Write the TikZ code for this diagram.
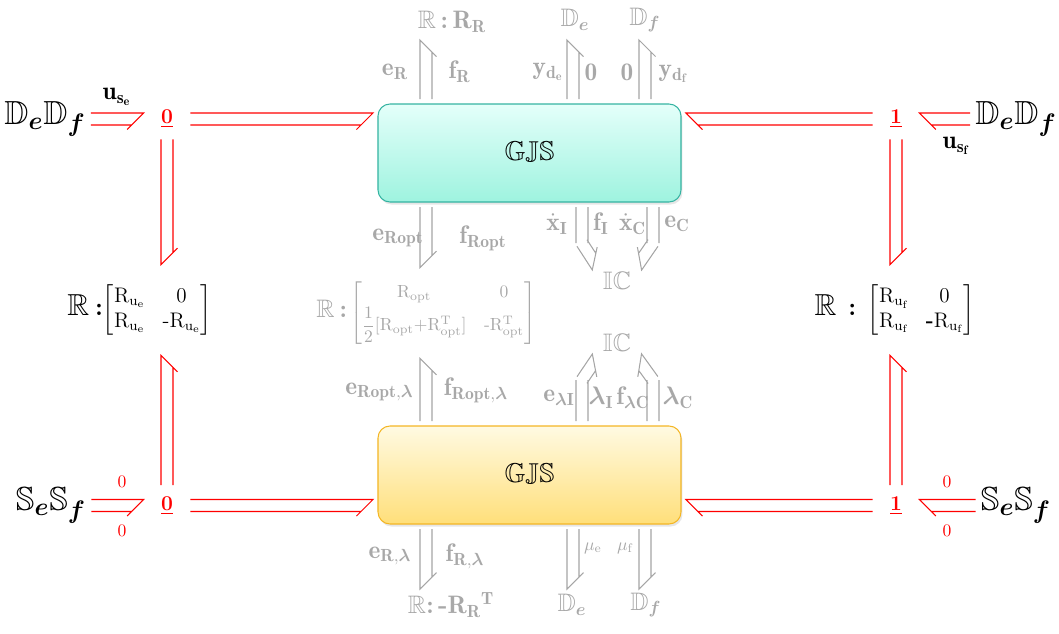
\documentclass[tikz,border=0pt]{standalone}
\usepackage{fontspec}
\usepackage{amsmath,amssymb}
\usepackage{xcolor}
\usetikzlibrary{calc,shadows}

\definecolor{gtext}{HTML}{A8A8A8}
\definecolor{gline}{HTML}{A5A5A5}
\definecolor{tealedge}{HTML}{35B3A2}
\definecolor{tealtop}{HTML}{E4FFFA}
\definecolor{tealbot}{HTML}{9EF3DF}
\definecolor{goldedge}{HTML}{F4B625}
\definecolor{goldtop}{HTML}{FFFAE2}
\definecolor{goldbot}{HTML}{FFDF7A}

\begin{document}
\begin{tikzpicture}[
  font=\Large,
  gjsbox/.style={draw, rounded corners=0.24cm, line width=0.6pt,
                 minimum width=6.06cm, minimum height=1.96cm, outer sep=0.1cm,
                 font=\fontsize{15.5}{19}\selectfont,
                 drop shadow={opacity=0.2, shadow xshift=0.03cm, shadow yshift=-0.05cm}},
  junc/.style={text=red, font=\large\bfseries, minimum width=0.92cm,
               minimum height=0.8cm, inner sep=0pt},
  big/.style={font=\fontsize{19}{22}\selectfont, inner sep=0.1cm},
  glab/.style={text=gtext, inner sep=1pt},
  rbond/.style={draw=red, line width=0.6pt},
  gbond/.style={draw=gline, line width=0.6pt},
  bond/.style 2 args={to path={
    ($(\tikztostart)!0.12cm!#1:(\tikztotarget)$)
      -- ($(\tikztotarget)!0.12cm!#2:(\tikztostart)$)
      -- ($(\tikztotarget)!0.33cm!(\tikztostart)!0.21cm!#1:(\tikztostart)$)
    ($(\tikztostart)!0.12cm!#2:(\tikztotarget)$)
      -- ($(\tikztotarget)!0.24cm!(\tikztostart)!0.12cm!#1:(\tikztostart)$)}},
  bondL/.style={bond={90}{-90}},
  bondR/.style={bond={-90}{90}},
  pair/.style={to path={
    ($(\tikztostart)!0.12cm!90:(\tikztotarget)$) -- ($(\tikztotarget)!0.12cm!-90:(\tikztostart)$)
    ($(\tikztostart)!0.12cm!-90:(\tikztotarget)$) -- ($(\tikztotarget)!0.12cm!90:(\tikztostart)$)
    (\tikztotarget)}}
]
\useasboundingbox (-10.59,-6.33) rectangle (10.59,6.33);
%--- GJS blocks ---------------------------------------------------------------
\node[gjsbox, draw=tealedge, top color=tealtop, bottom color=tealbot] (gjs1) at (0,3.27) {$\mathbb{GJS}$};
\node[gjsbox, draw=goldedge, top color=goldtop, bottom color=goldbot] (gjs2) at (0,-3.17) {$\mathbb{GJS}$};
%--- junctions -----------------------------------------------------------------
\node[junc] (j0t) at (-7.25,3.95)  {\underline{0}};
\node[junc] (j1t) at (7.33,3.95)   {\underline{1}};
\node[junc] (j0b) at (-7.25,-3.78) {\underline{0}};
\node[junc] (j1b) at (7.33,-3.78)  {\underline{1}};
%--- sources and dissipations ------------------------------------------------
\node[big] (dl) at (-9.69,3.95)  {$\mathbb{D}_{\boldsymbol{e}}\mathbb{D}_{\boldsymbol{f}}$};
\node[big] (dr) at (9.73,3.95)   {$\mathbb{D}_{\boldsymbol{e}}\mathbb{D}_{\boldsymbol{f}}$};
\node[big] (sl) at (-9.57,-3.78) {$\mathbb{S}_{\boldsymbol{e}}\mathbb{S}_{\boldsymbol{f}}$};
\node[big] (sr) at (9.73,-3.78)  {$\mathbb{S}_{\boldsymbol{e}}\mathbb{S}_{\boldsymbol{f}}$};
\node[font=\large, minimum height=1.8cm] (rl) at (-7.8,0.13) {%
  {\LARGE$\mathbb{R}$}\;{\Large\textbf{:}}$\begin{bmatrix}
    \mathrm{R}_{\mathrm{u}_{\mathrm{e}}} & 0\\
    \mathrm{R}_{\mathrm{u}_{\mathrm{e}}} & \text{-}\mathrm{R}_{\mathrm{u}_{\mathrm{e}}}
  \end{bmatrix}$};
\node[font=\large, minimum height=1.8cm] (rr) at (7.3,0.13) {%
  {\LARGE$\mathbb{R}$}\;\;{\Large\textbf{:}}\;\;$\begin{bmatrix}
    \mathrm{R}_{\mathrm{u}_{\mathrm{f}}} & 0\\
    \mathrm{R}_{\mathrm{u}_{\mathrm{f}}} & \textbf{-}\mathrm{R}_{\mathrm{u}_{\mathrm{f}}}
  \end{bmatrix}$};
%--- red labels ----------------------------------------------------------------
\node (use) at (-8.25,4.39) {$\mathbf{u}_{\mathbf{s}_{\mathbf{e}}}$};
\node (usf) at (8.53,3.41)  {$\mathbf{u}_{\mathbf{s}_{\mathbf{f}}}$};
\node[text=red, font=\normalsize] (zla) at (-8.15,-3.31) {0};
\node[text=red, font=\normalsize] (zlb) at (-8.15,-4.29) {0};
\node[text=red, font=\normalsize] (zra) at (8.35,-3.31)  {0};
\node[text=red, font=\normalsize] (zrb) at (8.35,-4.29)  {0};
%--- gray labels, top ---------------------------------------------------------
\node[glab] (rR)  at (-1.55,5.89) {$\mathbb{R}$\,\textbf{:}\,$\mathbf{R}_{\mathbf{R}}$};
\node[glab] (dDe) at (0.91,5.93)  {$\mathbb{D}_{\boldsymbol{e}}$};
\node[glab] (dDf) at (2.31,5.93)  {$\mathbb{D}_{\boldsymbol{f}}$};
\node[glab] (eR)  at (-2.69,4.89) {$\mathbf{e}_{\mathbf{R}}$};
\node[glab] (fR)  at (-1.4,4.89)  {$\mathbf{f}_{\mathbf{R}}$};
\node[glab] (yde) at (0.37,4.89)  {$\mathbf{y}_{\mathbf{d}_{\mathbf{e}}}$};
\node[glab] (zde) at (1.23,4.89)  {$\mathbf{0}$};
\node[glab] (zdf) at (1.95,4.89)  {$\mathbf{0}$};
\node[glab] (ydf) at (2.87,4.85)  {$\mathbf{y}_{\mathbf{d}_{\mathbf{f}}}$};
%--- gray labels, middle ------------------------------------------------------
\node[glab] (eRo) at (-2.63,1.57) {$\mathbf{e}_{\mathbf{Ropt}}$};
\node[glab] (fRo) at (-0.93,1.57) {$\mathbf{f}_{\mathbf{Ropt}}$};
\node[glab] (xI)  at (0.55,1.85)  {$\dot{\mathbf{x}}_{\mathbf{I}}$};
\node[glab] (fI)  at (1.43,1.85)  {$\mathbf{f}_{\mathbf{I}}$};
\node[glab] (xC)  at (2.06,1.85)  {$\dot{\mathbf{x}}_{\mathbf{C}}$};
\node[glab] (eC)  at (2.95,1.85)  {$\mathbf{e}_{\mathbf{C}}$};
\node[glab, inner sep=3pt] (ic1) at (1.75,0.71)  {$\mathbb{IC}$};
\node[glab, inner sep=3pt] (ic2) at (1.75,-0.53) {$\mathbb{IC}$};
\node[glab, font=\normalsize, minimum height=1.8cm] (rm) at (-2.07,0.07) {%
  {\Large$\mathbb{R}$}\;{\Large\textbf{:}}\,$\begin{bmatrix}
    \mathrm{R}_{\mathrm{opt}} & 0\\[2pt]
    \dfrac{1}{2}[\mathrm{R}_{\mathrm{opt}}{+}\mathrm{R}^{\mathrm{T}}_{\mathrm{opt}}] & \text{-}\mathrm{R}^{\mathrm{T}}_{\mathrm{opt}}
  \end{bmatrix}$};
\node[glab] (eRol) at (-3.0,-1.51)  {$\mathbf{e}_{\mathbf{Ropt},\boldsymbol{\lambda}}$};
\node[glab] (fRol) at (-1.07,-1.47) {$\mathbf{f}_{\mathbf{Ropt},\boldsymbol{\lambda}}$};
\node[glab] (elI)  at (0.59,-1.63)  {$\mathbf{e}_{\boldsymbol{\lambda}\mathbf{I}}$};
\node[glab] (lI)   at (1.43,-1.63)  {$\boldsymbol{\lambda}_{\mathbf{I}}$};
\node[glab] (flC)  at (2.07,-1.63)  {$\mathbf{f}_{\boldsymbol{\lambda}\mathbf{C}}$};
\node[glab] (lC)   at (2.97,-1.63)  {$\boldsymbol{\lambda}_{\mathbf{C}}$};
%--- gray labels, bottom ------------------------------------------------------
\node[glab] (eRl) at (-2.79,-4.79) {$\mathbf{e}_{\mathbf{R},\boldsymbol{\lambda}}$};
\node[glab] (fRl) at (-1.29,-4.79) {$\mathbf{f}_{\mathbf{R},\boldsymbol{\lambda}}$};
\node[glab, font=\normalsize] (mue) at (1.27,-4.63) {$\mu_{\mathrm{e}}$};
\node[glab, font=\normalsize] (muf) at (1.91,-4.63) {$\mu_{\mathrm{f}}$};
\node[glab] (rRb) at (-1.57,-5.77) {$\mathbb{R}$\textbf{:}\,$\textbf{-}\mathbf{R}_{\mathbf{R}}{}^{\mathbf{T}}$};
\node[glab] (bDe) at (0.85,-5.77) {$\mathbb{D}_{\boldsymbol{e}}$};
\node[glab] (bDf) at (2.33,-5.77) {$\mathbb{D}_{\boldsymbol{f}}$};
%--- free bond ends and bends ----------------------------------------------
\coordinate (tR)  at (-2.07,5.53);
\coordinate (tDe) at (0.87,5.53);
\coordinate (tDf) at (2.31,5.53);
\coordinate (bR)  at (-2.07,-5.45);
\coordinate (bDe) at (0.87,-5.45);
\coordinate (bDf) at (2.31,-5.45);
\coordinate (kI)  at (1.05,1.47);
\coordinate (kC)  at (2.47,1.47);
\coordinate (kIl) at (1.05,-1.27);
\coordinate (kCl) at (2.47,-1.27);
%--- red bonds -----------------------------------------------------------------
\draw[rbond, bondL] (dl.east) to (j0t.west);
\draw[rbond, bondL] (j0t.east) to (gjs1.west |- j0t.east);
\draw[rbond, bondR] (j1t.west) to (gjs1.east |- j1t.west);
\draw[rbond, bondR] (dr.west) to (j1t.east);
\draw[rbond, bondR] (j0t.south) to (j0t.south |- rl.north);
\draw[rbond, bondL] (j0b.north) to (j0b.north |- rl.south);
\draw[rbond, bondR] (j1t.south) to (j1t.south |- rr.north);
\draw[rbond, bondL] (j1b.north) to (j1b.north |- rr.south);
\draw[rbond, bondL] (sl.east) to (j0b.west);
\draw[rbond, bondL] (j0b.east) to (gjs2.west |- j0b.east);
\draw[rbond, bondR] (j1b.west) to (gjs2.east |- j1b.west);
\draw[rbond, bondR] (sr.west) to (j1b.east);
%--- gray bonds ----------------------------------------------------------------
\draw[gbond, bondL] (gjs1.north -| tR) to (tR);
\draw[gbond, bondL] (gjs1.north -| tDe) to (tDe);
\draw[gbond, bondL] (gjs1.north -| tDf) to (tDf);
\draw[gbond, bondR] (gjs1.south -| rm.north) to (rm.north);
\draw[gbond] (gjs1.south -| kI) to[pair] (kI) to[bondR] (ic1.north west);
\draw[gbond] (gjs1.south -| kC) to[pair] (kC) to[bondL] (ic1.north east);
\draw[gbond, bondL] (gjs2.north -| rm.south) to (rm.south);
\draw[gbond] (gjs2.north -| kIl) to[pair] (kIl) to[bondL] (ic2.south west);
\draw[gbond] (gjs2.north -| kCl) to[pair] (kCl) to[bondR] (ic2.south east);
\draw[gbond, bondR] (gjs2.south -| bR) to (bR);
\draw[gbond, bondR] (gjs2.south -| bDe) to (bDe);
\draw[gbond, bondR] (gjs2.south -| bDf) to (bDf);
\end{tikzpicture}
\end{document}
